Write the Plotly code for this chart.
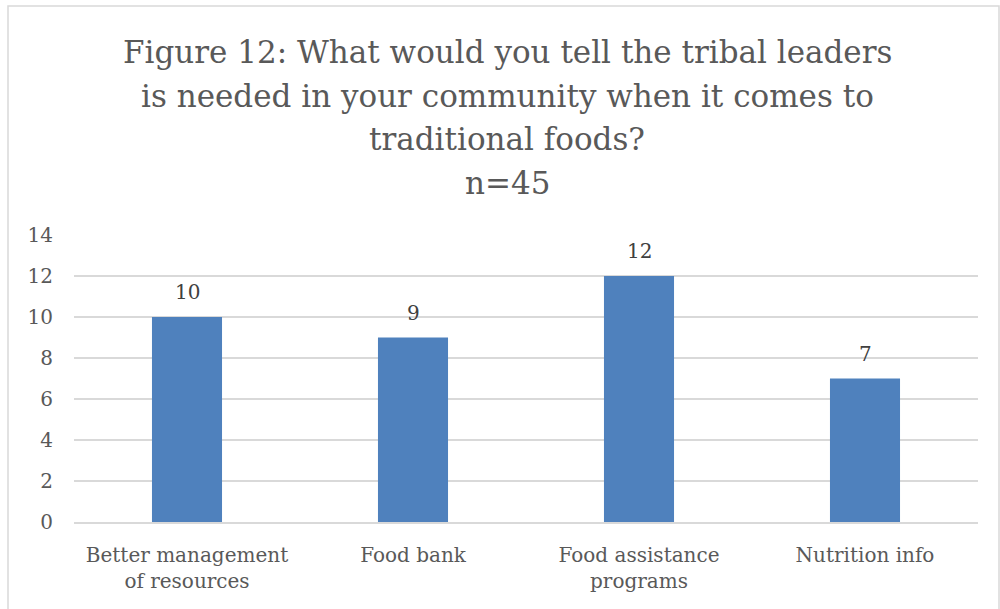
import plotly.graph_objects as go

# Survey responses (n=45)
categories = ["Better management<br>of resources", "Food bank",
              "Food assistance<br>programs", "Nutrition info"]
counts = [10, 9, 12, 7]
y_ticks = [0, 2, 4, 6, 8, 10, 12, 14]

title_lines = ["Figure 12: What would you tell the tribal leaders",
               "is needed in your community when it comes to",
               "traditional foods?",
               "n=45"]

FONT = "DejaVu Serif"
BAR = "#4f81bd"
GRID = "#d9d9d9"
TXT = "#595959"

W, H = 1000, 609
L, R, T, B = 74, 22, 235, 87
pw, ph = W - L - R, H - T - B

fig = go.Figure()
fig.add_trace(go.Bar(
    x=categories, y=counts, marker=dict(color=BAR, line=dict(width=0)),
    hoverinfo="x+y",
))

# value labels above each bar
for c, v in zip(categories, counts):
    fig.add_annotation(x=c, y=v, text=str(v), showarrow=False,
                       yanchor="bottom", yshift=11,
                       font=dict(family=FONT, size=20, color="#404040"))

# multi-line title, one annotation per line
title_centers = [52, 96, 139, 183]
for line, yc in zip(title_lines, title_centers):
    fig.add_annotation(x=(507 - L) / pw, xref="paper",
                       y=(H - B - yc) / ph, yref="paper",
                       text=line, showarrow=False, xanchor="center", yanchor="middle",
                       font=dict(family=FONT, size=31, color=TXT))

# chart-area border
fig.add_shape(type="rect", xref="paper", yref="paper",
              x0=(8 - L) / pw, x1=(999 - L) / pw,
              y0=(H - B - 640) / ph, y1=(H - B - 6) / ph,
              line=dict(color="#d9d9d9", width=1.5), fillcolor="rgba(0,0,0,0)",
              layer="below")

fig.update_layout(
    width=W, height=H,
    margin=dict(l=L, r=R, t=T, b=B, pad=0),
    paper_bgcolor="white", plot_bgcolor="white",
    bargap=0.69, showlegend=False,
    font=dict(family=FONT, color=TXT, size=20),
    xaxis=dict(showgrid=False, showline=True, linecolor=GRID, linewidth=1.5,
               ticks="outside", ticklen=14, tickcolor="rgba(0,0,0,0)",
               tickfont=dict(family=FONT, size=20, color=TXT),
               fixedrange=True),
    yaxis=dict(range=[0, 14], tickvals=y_ticks, showgrid=True, gridcolor=GRID,
               gridwidth=1.5, zeroline=False, showline=False, ticks="outside",
               ticklen=16, tickcolor="rgba(0,0,0,0)",
               tickfont=dict(family=FONT, size=20, color=TXT), fixedrange=True),
)

fig.write_html("out.html", config={"displayModeBar": False})
